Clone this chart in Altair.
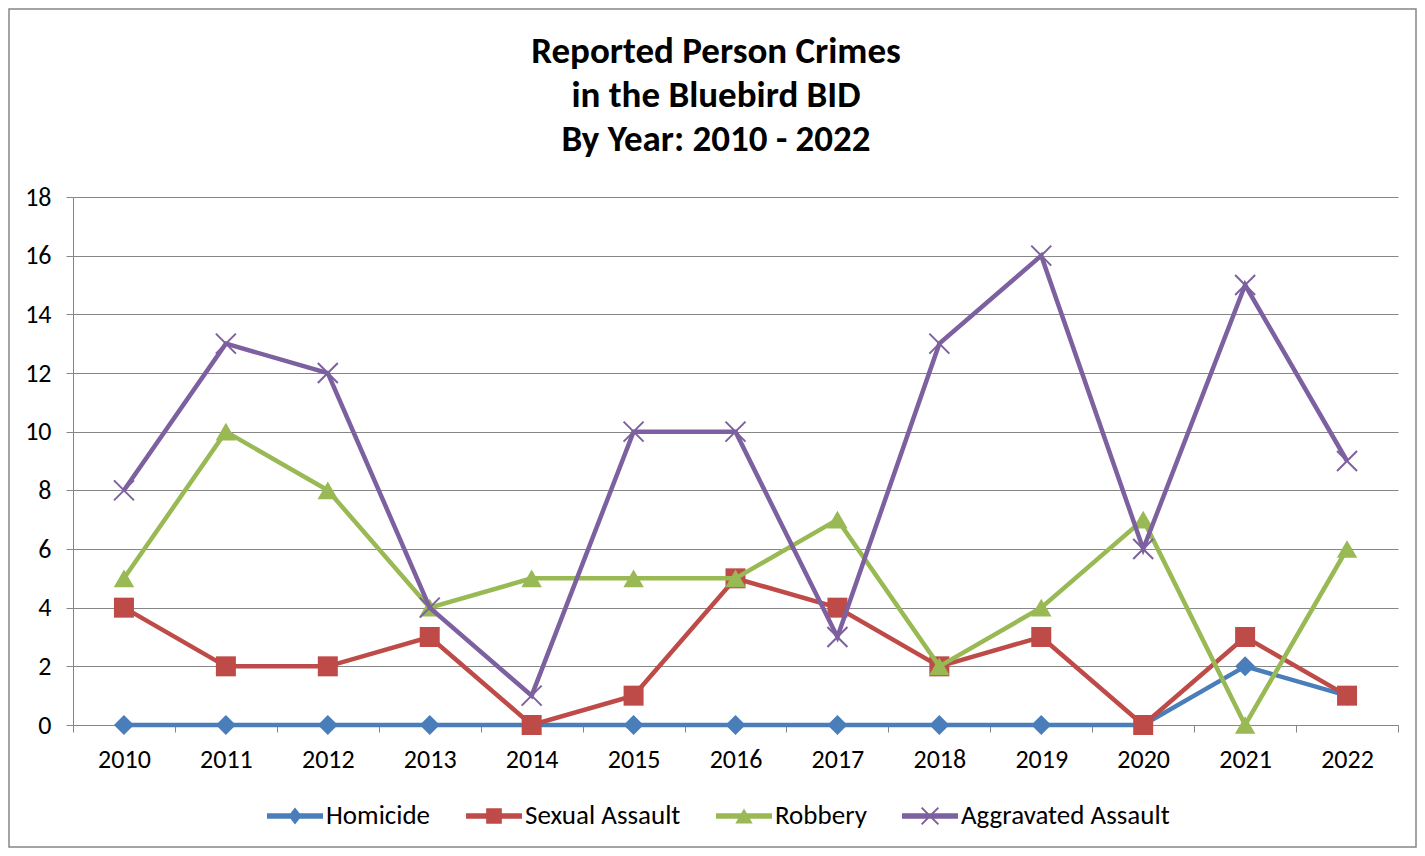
import altair as alt
import pandas as pd

# ---- data ----
years = [2010, 2011, 2012, 2013, 2014, 2015, 2016, 2017, 2018, 2019, 2020, 2021, 2022]
series_names = ["Homicide", "Sexual Assault", "Robbery", "Aggravated Assault"]
homicide = [0, 0, 0, 0, 0, 0, 0, 0, 0, 0, 0, 2, 1]
sexual_assault = [4, 2, 2, 3, 0, 1, 5, 4, 2, 3, 0, 3, 1]
robbery = [5, 10, 8, 4, 5, 5, 5, 7, 2, 4, 7, 0, 6]
aggravated_assault = [8, 13, 12, 4, 1, 10, 10, 3, 13, 16, 6, 15, 9]
y_ticks = [0, 2, 4, 6, 8, 10, 12, 14, 16, 18]
title_lines = ["Reported Person Crimes", "in the Bluebird BID", "By Year: 2010 - 2022"]

colors = ["#4A7EBB", "#BE4B48", "#98B954", "#7D60A0"]

rows = []
for name, vals in zip(series_names, [homicide, sexual_assault, robbery, aggravated_assault]):
    for yr, v in zip(years, vals):
        rows.append({"year": str(yr), "series": name, "count": v})
df = pd.DataFrame(rows)

FONT = "Carlito, Lato, sans-serif"
GRID = "#868686"
W, H = 1325, 528
FS = 26

x_enc = alt.X(
    "year:O",
    sort=[str(y) for y in years],
    scale=alt.Scale(type="band", paddingInner=0, paddingOuter=0),
    bandPosition=0.5,
    axis=alt.Axis(title=None, labelAngle=0, tickBand="extent", grid=False,
                  domainColor=GRID, tickColor=GRID, tickSize=7,
                  labelFont=FONT, labelFontSize=FS, labelColor="black", labelPadding=14),
)
y_enc = alt.Y(
    "count:Q",
    scale=alt.Scale(domain=[0, 18], nice=False),
    axis=alt.Axis(title=None, values=y_ticks, grid=True, gridColor=GRID, gridWidth=1,
                  domainColor=GRID, tickColor=GRID, tickSize=7,
                  labelFont=FONT, labelFontSize=FS, labelColor="black", labelPadding=15),
)
color_scale = alt.Scale(domain=series_names, range=colors)

marker_styles = {
    "Homicide": dict(shape="diamond", size=400, filled=True),
    "Sexual Assault": dict(shape="square", size=400, filled=True),
    "Robbery": dict(shape="triangle-up", size=420, filled=True),
    "Aggravated Assault": dict(shape="M-1,-1L1,1M-1,1L1,-1", size=400, filled=False, strokeWidth=2),
}

base = alt.Chart(df)
layers = []

# frame around the whole chart (decoration)
frame = alt.Chart(alt.Data(values=[{}])).mark_rect(
    fill="white", fillOpacity=0, stroke=GRID, strokeWidth=1.5
).encode(x=alt.value(-64), x2=alt.value(1343), y=alt.value(-188), y2=alt.value(650))
layers.append(frame)

# title as text
title = alt.Chart(alt.Data(values=[{}])).mark_text(
    text=title_lines, font=FONT, fontSize=37, fontWeight="bold", color="black",
    align="center", baseline="middle", lineHeight=44,
).encode(x=alt.value(643), y=alt.value(-145))
layers.append(title)

for name, col in zip(series_names, colors):
    sub = base.transform_filter(alt.datum.series == name)
    layers.append(sub.mark_line(strokeWidth=4.5, color=col).encode(x=x_enc, y=y_enc))
    layers.append(sub.mark_point(opacity=1, color=col, **marker_styles[name]).encode(x=x_enc, y=y_enc))

# legend-only layer (line + marker symbols)
line_part = "M-1,-0.1H1V0.1H-1Z"
legend_paths = [
    line_part + "M0,-0.3L0.24,0L0,0.3L-0.24,0Z",
    line_part + "M-0.28,-0.28H0.28V0.28H-0.28Z",
    line_part + "M0,-0.27L0.31,0.27L-0.31,0.27Z",
    line_part + "M-0.275,-0.325L0.325,0.275L0.275,0.325L-0.325,-0.275Z"
              + "M0.325,-0.275L-0.275,0.325L-0.325,0.275L0.275,-0.325Z",
]
leg = alt.Legend(title=None, orient="none", legendX=194, legendY=591, direction="horizontal",
                 symbolSize=3136, symbolOpacity=1, symbolStrokeWidth=0, padding=0,
                 labelFont=FONT, labelFontSize=27, labelColor="black", labelOffset=3,
                 labelLimit=400, columnPadding=35)
legend_layer = base.mark_point(filled=True, opacity=0).encode(
    x=x_enc, y=y_enc,
    color=alt.Color("series:N", scale=color_scale, legend=leg),
    shape=alt.Shape("series:N", scale=alt.Scale(domain=series_names, range=legend_paths), legend=leg),
)
layers.append(legend_layer)

chart = alt.layer(*layers).properties(
    width=W, height=H,
    autosize=alt.AutoSizeParams(type="none"),
    padding={"left": 65, "top": 189, "right": 19, "bottom": 123},
    background="white",
).configure_view(stroke=None)

chart.save("out.html", embed_options={"renderer": "svg", "actions": False})
